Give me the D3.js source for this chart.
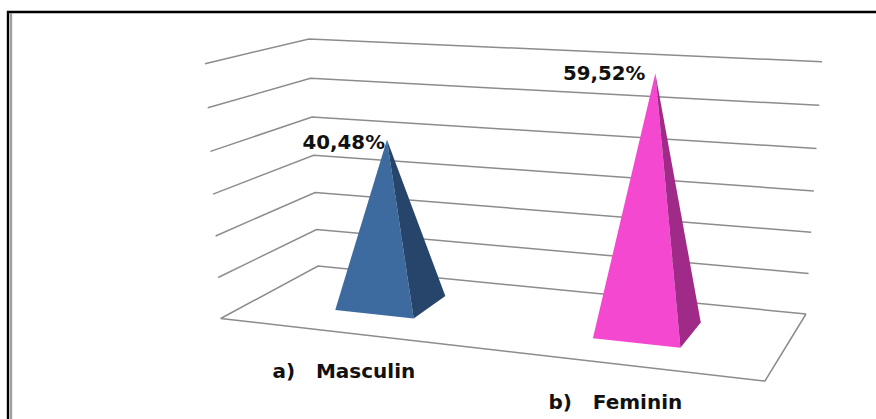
<!DOCTYPE html>
<html>
<head>
<meta charset="utf-8">
<script src="https://cdn.jsdelivr.net/npm/d3@7"></script>
<style>html,body{margin:0;padding:0;background:#fff}svg{display:block}</style>
</head>
<body>
<div id="chart"></div>
<script>
const categories = ["a)\u00A0\u00A0 Masculin", "b)\u00A0\u00A0 Feminin"];
const percentValues = [40.48, 59.52];
const percentLabels = ["40,48%", "59,52%"];
const gridTicks = [0, 10, 20, 30, 40, 50, 60];
const frontColors = ["#3d6a9f", "#f548d0"];
const sideColors = ["#27446b", "#a02a88"];

const W = 876, H = 419;
const svg = d3.select("#chart").append("svg").attr("width", W).attr("height", H);

// Box corners of the 3D plot on the screen (front/back, left/right, floor/top)
const box = {
  flb: [220.7, 318.5], frb: [765, 381], blb: [318, 266], brb: [806, 314],
  flt: [205, 63.7], frt: [780, 98], blt: [309, 39], brt: [822, 61.7]
};
// Height scale with the slight perspective compression of the 3D view
const h = d3.scaleLinear().domain(gridTicks).range([0, 0.161, 0.324, 0.488, 0.656, 0.827, 1]);
const mix = (a, b, t) => [a[0] + (b[0] - a[0]) * t, a[1] + (b[1] - a[1]) * t];
const persp = 0.896;
const along = s => persp * s / (1 + (persp - 1) * s);
function project(s, v, t) {
  const u = along(s);
  const bottom = mix(mix(box.flb, box.frb, u), mix(box.blb, box.brb, u), v);
  const top = mix(mix(box.flt, box.frt, u), mix(box.blt, box.brt, u), v);
  return mix(bottom, top, t);
}
const band = d3.scaleBand().domain(categories).range([0, 1])
  .paddingInner(0.684).paddingOuter(0.342);
const depth = d3.scaleLinear().domain([0, 1]).range([0.335, 0.73]);

// Border: top and left rules only, with a grey inner rule on the left
svg.append("line").attr("x1", 7).attr("x2", W).attr("y1", 12).attr("y2", 12)
  .attr("stroke", "#000").attr("stroke-width", 2.4);
svg.append("line").attr("x1", 8).attr("x2", 8).attr("y1", 11).attr("y2", H)
  .attr("stroke", "#000").attr("stroke-width", 2.4);
svg.append("line").attr("x1", 11).attr("x2", 11).attr("y1", 13).attr("y2", H)
  .attr("stroke", "#a0a0a0").attr("stroke-width", 2.4);

const line = d3.line();
const gridColor = "#8c8c8c";

// Gridlines on the two walls
svg.append("g").selectAll("path").data(gridTicks).join("path")
  .attr("d", d => line([project(0, 0, h(d)), project(0, 1, h(d)), project(1, 1, h(d))]))
  .attr("fill", "none").attr("stroke", gridColor).attr("stroke-width", 1.5);

// Floor front edges
svg.append("path")
  .attr("d", line([project(0, 0, 0), project(1, 0, 0), project(1, 1, 0)]))
  .attr("fill", "none").attr("stroke", gridColor).attr("stroke-width", 1.5);

// Pyramids
const marks = svg.append("g").selectAll("g").data(categories).join("g");
const corners = c => {
  const u0 = band(c), u1 = u0 + band.bandwidth();
  return { u0, u1, um: (u0 + u1) / 2 };
};
marks.append("path")
  .attr("d", (c, i) => {
    const k = corners(c);
    return line([project(k.u0, depth(0), 0), project(k.u1, depth(0), 0),
      project(k.um, depth(0.5), h(percentValues[i]))]) + "Z";
  })
  .attr("fill", (c, i) => frontColors[i]);
marks.append("path")
  .attr("d", (c, i) => {
    const k = corners(c);
    return line([project(k.u1, depth(0), 0), project(k.u1, depth(1), 0),
      project(k.um, depth(0.5), h(percentValues[i]))]) + "Z";
  })
  .attr("fill", (c, i) => sideColors[i]);

// Value labels
const nudgeX = [-2, -10];
const nudgeY = [9, 7];
const textStyle = s => s.attr("font-family", "'DejaVu Sans', sans-serif")
  .attr("font-weight", "bold").attr("fill", "#111");
svg.append("g").selectAll("text").data(categories).join("text")
  .call(textStyle)
  .attr("font-size", 19.8).attr("text-anchor", "end")
  .attr("x", (c, i) => project(corners(c).um, depth(0.5), h(percentValues[i]))[0] + nudgeX[i])
  .attr("y", (c, i) => project(corners(c).um, depth(0.5), h(percentValues[i]))[1] + nudgeY[i])
  .text((c, i) => percentLabels[i]);

// Category labels
svg.append("g").selectAll("text").data(categories).join("text")
  .call(textStyle)
  .attr("font-size", 20).attr("text-anchor", "middle")
  .attr("x", c => project(corners(c).um, 0, 0)[0] - 2)
  .attr("y", c => project(corners(c).um, 0, 0)[1] + 45)
  .text(c => c);
</script>
</body>
</html>
